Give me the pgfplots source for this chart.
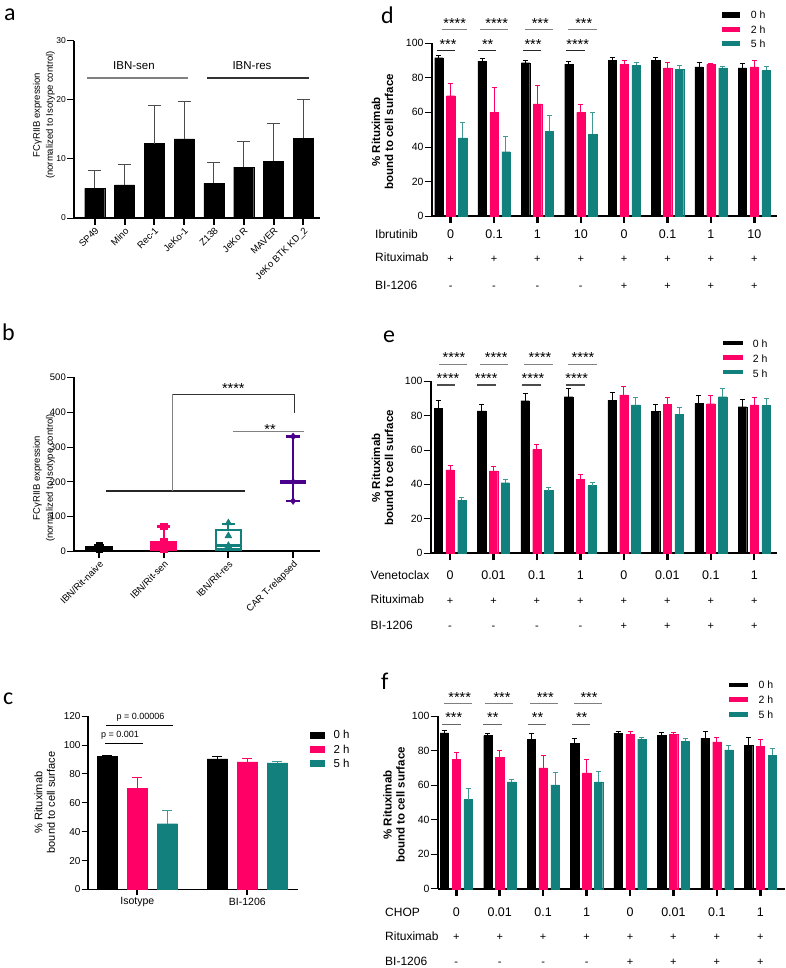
\documentclass[border=0pt]{standalone}
\usepackage{fontspec}
\setmainfont{Liberation Sans}
\newfontfamily\carlito{Carlito}
\usepackage{pgfplots}
\usepackage{pgfplotstable}
\pgfplotsset{compat=1.18}

\definecolor{pk}{RGB}{255,0,102}
\definecolor{tl}{RGB}{18,128,124}
\definecolor{pu}{RGB}{75,0,140}
\newcommand{\fs}[1]{\fontsize{#1}{#1}\selectfont}

\pgfplotstableread{
x y e
0 5.0 3.1
1 5.6 3.5
2 12.6 6.5
3 13.4 6.3
4 5.9 3.5
5 8.6 4.3
6 9.6 6.4
7 13.5 6.6
}\dataA

\pgfplotstableread{
x k ke p pe t te
0 92.0 1.0 70.0 7.3 45.5 9.2
1 90.3 1.7 88.2 2.3 87.5 1.0
}\dataC

\pgfplotstableread{
x k ke p pe t te
0 91.7 1.3 69.7 7.3 45.2 9.2
1 89.7 1.3 60.0 14.3 37.2 8.9
2 88.8 1.4 64.9 10.4 49.2 8.9
3 88.0 1.5 60.0 4.4 47.3 12.5
4 90.0 2.0 87.8 2.4 87.4 1.2
5 90.3 1.7 85.7 2.9 85.0 2.0
6 86.3 2.7 87.7 0.8 85.8 1.0
7 85.8 2.5 86.3 4.0 84.3 2.3
}\dataD

\pgfplotstableread{
x k ke p pe t te
0 84.1 4.3 48.4 2.5 30.9 1.6
1 82.6 3.9 47.8 2.5 41.0 2.1
2 88.6 4.2 60.2 3.0 36.4 1.9
3 90.9 4.7 43.1 2.4 39.3 1.7
4 88.8 4.6 91.9 4.8 86.1 4.2
5 82.4 4.1 86.3 4.2 80.7 3.8
6 87.0 4.5 86.8 4.5 90.9 4.5
7 85.1 4.3 86.1 4.2 85.9 3.7
}\dataE

\pgfplotstableread{
x k ke p pe t te
0 90.3 1.2 74.9 3.9 51.7 6.6
1 88.8 1.2 76.3 3.6 62.0 1.5
2 86.7 3.1 70.1 7.3 60.2 7.0
3 84.4 2.9 67.2 7.7 62.0 6.0
4 90.2 1.1 89.4 1.7 86.7 1.1
5 89.0 1.5 89.4 0.9 85.5 1.8
6 87.3 3.8 85.1 2.5 80.5 2.5
7 83.2 4.6 82.4 4.3 77.4 4.1
}\dataF

\pgfplotsset{
  base/.style={
    scale only axis, anchor=south west, clip=false,
    axis x line*=bottom, axis y line*=left,
    tick align=outside, tick pos=left,
    major tick length=7pt,
    /pgf/number format/assume math mode=true,
    axis line style={line width=2pt, black, -},
    xtick style={line width=2pt, black},
    ytick style={line width=0.8pt, black},
    yticklabel style={inner sep=1pt},
  },
  bars/.style n args={3}{fill=#1, draw=#1, line width=0.2pt,
    error bars/.cd, y dir=plus, y explicit,
    error bar style={draw=#3, line width=1pt, solid},
    error mark options={rotate=90, draw=#3, line width=1pt, mark size=#2}},
}

\newcommand{\hseg}[4]{\draw[#1, line width=1.2pt] (#2,968-#4) -- (#3,968-#4);}
\newcommand{\stars}[3]{\node[anchor=base, font=\fs{14.5}, inner sep=0pt] at (#1,968-#2-8.3) {#3};}

\begin{document}
\begin{tikzpicture}[x=1pt,y=1pt]
\useasboundingbox (0,0) rectangle (786,968);

% ---------------- panel a
\begin{axis}[base, at={(74pt,750pt)}, width=246pt, height=177.3pt,
  xmin=-0.695, xmax=7.56, ymin=0, ymax=30, ytick={0,10,20,30},
  xtick={0,...,7},
  xticklabels={SP49,Mino,Rec-1,JeKo-1,Z138,JeKo R,MAVER,JeKo BTK KD\_2},
  xticklabel style={rotate=45, anchor=north east, font=\fs{9.5}, inner sep=1pt},
  yticklabel style={font=\fs{8.5}},
  ybar, bar width=20pt]
\addplot[bars={black}{6.5pt}{black!70}] table[x=x, y=y, y error=e] {\dataA};
\end{axis}
\draw[black!50, line width=1.2pt] (87,968-78) -- (188,968-78);
\draw[black!80, line width=1.2pt] (207,968-78) -- (309,968-78);
\node[anchor=base, font=\fs{11.5}, inner sep=0pt] at (134,968-70) {IBN-sen};
\node[anchor=base, font=\fs{11.5}, inner sep=0pt] at (252,968-70) {IBN-res};
\node[rotate=90, align=center, font=\fontsize{9.5}{13}\selectfont] at (44,968-115)
  {FCγRIIB expression\\(normalized to Isotype control)};
\node[anchor=base west, font=\carlito\fs{24}, inner sep=0pt] at (4,968-20.7) {a};

% ---------------- panel b
\begin{axis}[base, at={(74pt,416.5pt)}, width=246pt, height=174.2pt,
  xmin=-0.386, xmax=3.416, ymin=0, ymax=500, ytick={0,100,...,500},
  xtick={0,1,2,3},
  xticklabels={IBN/Rit-naive,IBN/Rit-sen,IBN/Rit-res,CAR T-relapsed},
  xticklabel style={rotate=45, anchor=north east, font=\fs{9.5}, inner sep=1pt},
  yticklabel style={font=\fs{9.5}}]
% IBN/Rit-naive (black)
\addplot[draw=black, fill=black, line width=2.2pt] coordinates {(-0.2,4) (0.2,4) (0.2,13) (-0.2,13)} -- cycle;
\addplot[black, line width=2.2pt] coordinates {(0,13) (0,19)};
\addplot[black, line width=2.2pt] coordinates {(-0.08,19) (0.08,19)};
% IBN/Rit-sen (pink)
\addplot[draw=pk, fill=pk, line width=2.2pt] coordinates {(0.81,5) (1.19,5) (1.19,28) (0.81,28)} -- cycle;
\addplot[pk, line width=2.2pt] coordinates {(1,28) (1,72)};
\addplot[pk, line width=2.2pt] coordinates {(0.9,72) (1.1,72)};
% IBN/Rit-res (teal)
\addplot[draw=tl, line width=2.2pt] coordinates {(1.81,6) (2.19,6) (2.19,62) (1.81,62)} -- cycle;
\addplot[tl, line width=2.2pt] coordinates {(1.81,17) (2.19,17)};
\addplot[tl, line width=2.2pt] coordinates {(2,62) (2,80)};
\addplot[tl, line width=2.2pt] coordinates {(1.9,80) (2.1,80)};
% CAR T-relapsed (purple)
\addplot[pu, line width=2.2pt] coordinates {(3,145) (3,330)};
\addplot[pu, line width=3.5pt] coordinates {(2.8,200) (3.2,200)};
\addplot[pu, line width=2.2pt] coordinates {(2.89,145) (3.11,145)};
\addplot[pu, line width=2.2pt] coordinates {(2.89,330) (3.11,330)};
% individual points
\addplot[only marks, mark=square*, mark size=3pt, black] coordinates {(0,6) (0,10) (0,17)};
\addplot[only marks, mark=square*, mark size=3.2pt, pk] coordinates {(1,73) (1,28) (1,12) (1,6)};
\addplot[only marks, mark=triangle*, mark size=4pt, tl] coordinates {(2,82) (2,45) (2,17) (2,8)};
\addplot[only marks, mark=diamond*, mark size=3.5pt, pu] coordinates {(3,145) (3,200) (3,330)};
\end{axis}
\draw[black!85, line width=1.2pt] (106,968-491) -- (245,968-491);
\draw[black!50, line width=1.2pt] (172.7,968-491) -- (172.7,968-394.3);
\draw[black!80, line width=1.2pt] (172.7,968-394.3) -- (294.3,968-394.3) -- (294.3,968-413.3);
\draw[black!50, line width=1.2pt] (233.3,968-431.7) -- (304.3,968-431.7);
\stars{233.3}{385}{****}
\stars{270}{426}{**}
\node[rotate=90, align=center, font=\fontsize{9.5}{13}\selectfont] at (44,968-478)
  {FCγRIIB expression\\(normalized to Isotype control)};
\node[anchor=base west, font=\carlito\fs{24}, inner sep=0pt] at (2,968-340.7) {b};

% ---------------- panel c
\begin{axis}[base, at={(87.7pt,78.5pt)}, width=210.6pt, height=173.5pt,
  xmin=-0.451, xmax=1.4636, ymin=0, ymax=120, ytick={0,20,...,120},
  xtick={0,1}, xticklabels={Isotype,BI-1206}, major tick length=6pt,
  axis line style={line width=1.7pt},
  xticklabel style={font=\fs{10.5}, inner sep=2pt},
  yticklabel style={font=\fs{10}},
  ybar=9.5pt, bar width=20.5pt]
\addplot[bars={black}{5pt}{black}] table[x=x, y=k, y error=ke] {\dataC};
\addplot[bars={pk}{5pt}{pk}] table[x=x, y=p, y error=pe] {\dataC};
\addplot[bars={tl}{5pt}{tl!80}] table[x=x, y=t, y error=te] {\dataC};
\end{axis}
\draw[black, line width=1pt] (106,968-725.3) -- (173,968-725.3);
\draw[black, line width=1pt] (105,968-743.3) -- (142.7,968-743.3);
\node[anchor=base, font=\fs{9}, inner sep=0pt] at (140.5,968-720) {p = 0.00006};
\node[anchor=base, font=\fs{9}, inner sep=0pt] at (120,968-738) {p = 0.001};
\fill[black] (310,968-731.7) rectangle (325,968-739);
\fill[pk] (310,968-746) rectangle (325,968-753.3);
\fill[tl] (310,968-760) rectangle (325,968-767.3);
\node[anchor=base west, font=\fs{11.5}, inner sep=0pt] at (333.3,968-739) {0 h};
\node[anchor=base west, font=\fs{11.5}, inner sep=0pt] at (333.3,968-753.3) {2 h};
\node[anchor=base west, font=\fs{11.5}, inner sep=0pt] at (333.3,968-767.3) {5 h};
\node[rotate=90, align=center, font=\fontsize{11}{12.5}\selectfont] at (44.8,968-802.5)
  {\% Rituximab\\bound to cell surface};
\node[anchor=base west, font=\carlito\fs{24}, inner sep=0pt] at (3,968-705) {c};

% ---------------- panel d
\begin{axis}[base, at={(431.7pt,752pt)}, width=345pt, height=172.7pt,
  xmin=-0.438, xmax=7.517, ymin=0, ymax=100, ytick={0,20,...,100},
  xtick={0,...,7}, xticklabels={},
  axis line style={line width=2.2pt},
  xtick style={line width=2.5pt},
  yticklabel style={font=\fs{10.5}},
  ybar=3.5pt, bar width=8.4pt]
\addplot[bars={black}{2.5pt}{black}] table[x=x, y=k, y error=ke] {\dataD};
\addplot[bars={pk}{2.5pt}{pk}] table[x=x, y=p, y error=pe] {\dataD};
\addplot[bars={tl}{2.5pt}{tl!80}] table[x=x, y=t, y error=te] {\dataD};
\end{axis}
\hseg{black!50}{441.7}{467.3}{29.7}
\hseg{black!50}{480}{508.3}{29.7}
\hseg{black!50}{525}{553.3}{29.7}
\hseg{black!50}{568.3}{596.7}{29.7}
\hseg{black!85}{436.7}{455}{50.7}
\hseg{black!85}{477.7}{496}{50.7}
\hseg{black!85}{522.7}{541}{50.7}
\hseg{black!85}{566}{584.7}{50.7}
\stars{454.7}{20}{****}
\stars{496.7}{20}{****}
\stars{540.3}{20}{***}
\stars{583.8}{20}{***}
\stars{448}{40.8}{***}
\stars{487.7}{40.8}{**}
\stars{533}{40.8}{***}
\stars{577.7}{40.8}{****}
\fill[black] (721.7,968-12.3) rectangle (740,968-17.7);
\fill[pk] (721.7,968-26.7) rectangle (740,968-31.7);
\fill[tl] (721.7,968-41) rectangle (740,968-46);
\node[anchor=base west, font=\fs{10.5}, inner sep=0pt] at (750.7,968-19) {0 h};
\node[anchor=base west, font=\fs{10.5}, inner sep=0pt] at (750.7,968-33.3) {2 h};
\node[anchor=base west, font=\fs{10.5}, inner sep=0pt] at (750.7,968-47.7) {5 h};
\foreach \i/\l/\m in {0/0/-,1/0.1/-,2/1/-,3/10/-,4/0/+,5/0.1/+,6/1/+,7/10/+}{
  \node[anchor=base, font=\fs{12.5}, inner sep=0pt] at ({450.7+43.37*\i},968-239) {\l};
  \node[anchor=base, font=\fs{11}, inner sep=0pt] at ({450.7+43.37*\i},968-262.5) {+};
  \node[anchor=base, font=\fs{11}, inner sep=0pt] at ({450.7+43.37*\i},968-289.3) {\m};
}
\node[anchor=base west, font=\fs{12}, inner sep=0pt] at (375,968-238.5) {Ibrutinib};
\node[anchor=base west, font=\fs{12}, inner sep=0pt] at (375,968-262) {Rituximab};
\node[anchor=base west, font=\fs{12}, inner sep=0pt] at (375,968-289.3) {BI-1206};
\node[rotate=90, align=center, font=\bfseries\fontsize{11.5}{13}\selectfont] at (382.5,968-132)
  {\% Rituximab\\bound to cell surface};
\node[anchor=base west, font=\carlito\fs{24}, inner sep=0pt] at (381,968-23.3) {d};

% ---------------- panel e
\begin{axis}[base, at={(430.7pt,414.7pt)}, width=346pt, height=172.3pt,
  xmin=-0.444, xmax=7.517, ymin=0, ymax=100, ytick={0,20,...,100},
  xtick={0,...,7}, xticklabels={},
  axis line style={line width=2.2pt},
  xtick style={line width=2.5pt},
  yticklabel style={font=\fs{10.5}},
  ybar=3.4pt, bar width=8.4pt]
\addplot[bars={black}{2.5pt}{black}] table[x=x, y=k, y error=ke] {\dataE};
\addplot[bars={pk}{2.5pt}{pk}] table[x=x, y=p, y error=pe] {\dataE};
\addplot[bars={tl}{2.5pt}{tl!80}] table[x=x, y=t, y error=te] {\dataE};
\end{axis}
\hseg{black!50}{439}{466.7}{364.3}
\hseg{black!50}{480}{508.3}{364.3}
\hseg{black!50}{524.3}{553.3}{364.3}
\hseg{black!50}{568.3}{596.7}{364.3}
\hseg{black!70}{436.7}{455}{385}
\hseg{black!70}{477.3}{496}{385}
\hseg{black!70}{521.7}{540.7}{385}
\hseg{black!70}{565.7}{584.7}{385}
\stars{454}{354.5}{****}
\stars{496.2}{354.5}{****}
\stars{540}{354.5}{****}
\stars{583}{354.5}{****}
\stars{448}{375.3}{****}
\stars{486.2}{375.3}{****}
\stars{533}{375.3}{****}
\stars{576.7}{375.3}{****}
\fill[black] (723.3,968-340.7) rectangle (742.7,968-345);
\fill[pk] (723.3,968-355) rectangle (742.7,968-360);
\fill[tl] (723.3,968-370) rectangle (742.7,968-374.3);
\node[anchor=base west, font=\fs{10.5}, inner sep=0pt] at (752.7,968-348) {0 h};
\node[anchor=base west, font=\fs{10.5}, inner sep=0pt] at (752.7,968-362.7) {2 h};
\node[anchor=base west, font=\fs{10.5}, inner sep=0pt] at (752.7,968-377.3) {5 h};
\foreach \i/\l/\m in {0/0/-,1/0.01/-,2/0.1/-,3/1/-,4/0/+,5/0.01/+,6/0.1/+,7/1/+}{
  \node[anchor=base, font=\fs{12.5}, inner sep=0pt] at ({450+43.46*\i},968-579.3) {\l};
  \node[anchor=base, font=\fs{11}, inner sep=0pt] at ({450+43.46*\i},968-605) {+};
  \node[anchor=base, font=\fs{11}, inner sep=0pt] at ({450+43.46*\i},968-629.3) {\m};
}
\node[anchor=base west, font=\fs{12}, inner sep=0pt] at (370.5,968-579.3) {Venetoclax};
\node[anchor=base west, font=\fs{12}, inner sep=0pt] at (370.5,968-603.3) {Rituximab};
\node[anchor=base west, font=\fs{12}, inner sep=0pt] at (370.5,968-629.3) {BI-1206};
\node[rotate=90, align=center, font=\bfseries\fontsize{11.5}{13}\selectfont] at (382.5,968-468)
  {\% Rituximab\\bound to cell surface};
\node[anchor=base west, font=\carlito\fs{24}, inner sep=0pt] at (383,968-343) {e};

% ---------------- panel f
\begin{axis}[base, at={(437.7pt,79.2pt)}, width=347.3pt, height=172.6pt,
  xmin=-0.428, xmax=7.568, ymin=0, ymax=100, ytick={0,20,...,100},
  xtick={0,...,7}, xticklabels={},
  axis line style={line width=2.2pt},
  xtick style={line width=2.5pt},
  yticklabel style={font=\fs{10.5}},
  ybar=3.5pt, bar width=8.4pt]
\addplot[bars={black}{2.5pt}{black}] table[x=x, y=k, y error=ke] {\dataF};
\addplot[bars={pk}{2.5pt}{pk}] table[x=x, y=p, y error=pe] {\dataF};
\addplot[bars={tl}{2.5pt}{tl!80}] table[x=x, y=t, y error=te] {\dataF};
\end{axis}
\hseg{black!50}{444.3}{471.7}{703.3}
\hseg{black!50}{485}{513.3}{703.3}
\hseg{black!50}{530}{558.3}{703.3}
\hseg{black!50}{574.3}{601.7}{703.3}
\hseg{black!60}{442.3}{461}{724.3}
\hseg{black!60}{483.3}{501.7}{724.3}
\hseg{black!60}{528.3}{546}{724.3}
\hseg{black!60}{571.7}{590}{724.3}
\stars{459.7}{693.8}{****}
\stars{502}{693.8}{***}
\stars{545.3}{693.8}{***}
\stars{589}{693.8}{***}
\stars{453.8}{714.5}{***}
\stars{492.8}{714.5}{**}
\stars{537.5}{714.5}{**}
\stars{581.7}{714.5}{**}
\fill[black] (729.3,968-682.7) rectangle (748.3,968-686.7);
\fill[pk] (729.3,968-697.3) rectangle (748.3,968-702);
\fill[tl] (729.3,968-711.7) rectangle (748.3,968-716.7);
\node[anchor=base west, font=\fs{10.5}, inner sep=0pt] at (758.3,968-688.3) {0 h};
\node[anchor=base west, font=\fs{10.5}, inner sep=0pt] at (758.3,968-703.3) {2 h};
\node[anchor=base west, font=\fs{10.5}, inner sep=0pt] at (758.3,968-718.3) {5 h};
\foreach \i/\l/\m in {0/0/-,1/0.01/-,2/0.1/-,3/1/-,4/0/+,5/0.01/+,6/0.1/+,7/1/+}{
  \node[anchor=base, font=\fs{12.5}, inner sep=0pt] at ({456.3+43.43*\i},968-916.7) {\l};
  \node[anchor=base, font=\fs{11}, inner sep=0pt] at ({456.3+43.43*\i},968-940.7) {+};
  \node[anchor=base, font=\fs{11}, inner sep=0pt] at ({456.3+43.43*\i},968-965.7) {\m};
}
\node[anchor=base west, font=\fs{12}, inner sep=0pt] at (385,968-916.7) {CHOP};
\node[anchor=base west, font=\fs{12}, inner sep=0pt] at (385,968-940.7) {Rituximab};
\node[anchor=base west, font=\fs{12}, inner sep=0pt] at (385,968-965.7) {BI-1206};
\node[rotate=90, align=center, font=\bfseries\fontsize{11.5}{13}\selectfont] at (394,968-805)
  {\% Rituximab\\bound to cell surface};
\node[anchor=base west, font=\carlito\fs{24}, inner sep=0pt] at (381,968-690) {f};
\end{tikzpicture}
\end{document}
